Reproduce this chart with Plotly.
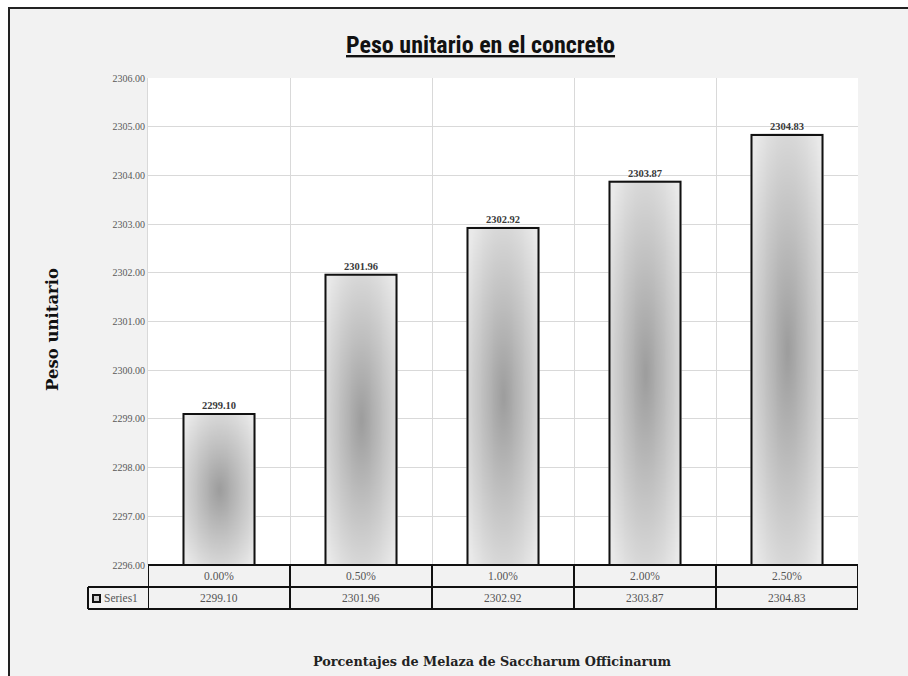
import numpy as np
import plotly.graph_objects as go

# ---- data ----
categories = ["0.00%", "0.50%", "1.00%", "2.00%", "2.50%"]
peso_unitario = [2299.10, 2301.96, 2302.92, 2303.87, 2304.83]
series_name = "Series1"
y_min, y_max = 2296.0, 2306.0

# ---- geometry (pixels) ----
W, H = 908, 676
ML, MR, MT, MB = 148, 50, 78, 111
PW, PH = W - ML - MR, H - MT - MB


def px_x(px):
    return (px - ML) / PW


def px_y(py):
    return (H - MB - py) / PH


xs = list(range(len(categories)))
bar_w = 0.5

fig = go.Figure()

# radial grey shading inside each bar
shade_scale = [[0.0, "#9c9c9c"], [0.45, "#c0c0c0"], [1.0, "#e9e9e9"]]
for i, v in zip(xs, peso_unitario):
    nx, ny = 40, 120
    cx = np.linspace(i - bar_w / 2, i + bar_w / 2, nx)
    cy = np.linspace(y_min, v, ny)
    mid = (y_min + v) / 2
    half = (v - y_min) / 2
    dx = (cx[None, :] - i) / (bar_w / 2)
    dy = (cy[:, None] - mid) / half
    z = np.sqrt(dx ** 2 + dy ** 2)
    fig.add_trace(go.Heatmap(
        x=cx, y=cy, z=z, zmin=0, zmax=1.3, colorscale=shade_scale,
        zsmooth="best", showscale=False, hoverinfo="skip",
    ))

fig.add_trace(go.Bar(
    x=xs, y=[v - y_min for v in peso_unitario], base=y_min, width=bar_w,
    marker=dict(color="rgba(0,0,0,0)", line=dict(color="#111111", width=2)),
    text=[f"<b>{v:.2f}</b>" for v in peso_unitario], textposition="outside",
    cliponaxis=False,
    textfont=dict(family="Liberation Serif", size=10.5, color="#3a3a3a"),
    name=series_name, showlegend=False,
))

shapes = []
# outer chart frame (runs off the right and bottom edges) and white plotting area
shapes.append(dict(type="rect", xref="paper", yref="paper",
                   x0=px_x(9), x1=px_x(1000), y0=px_y(760), y1=px_y(8),
                   fillcolor="#f2f2f2", line=dict(color="#222222", width=2),
                   layer="below"))
shapes.append(dict(type="rect", xref="paper", yref="paper",
                   x0=0, x1=1, y0=0, y1=1, fillcolor="white",
                   line=dict(width=0), layer="below"))

# data table under the plot
row1_top, row1_bot, row2_bot = 565, 587, 609
key_left = 88
tl = dict(color="#111111", width=2)
shapes.append(dict(type="line", xref="paper", yref="paper", x0=0, x1=1,
                   y0=px_y(row1_top), y1=px_y(row1_top), line=tl))
for yy in (row1_bot, row2_bot):
    shapes.append(dict(type="line", xref="paper", yref="paper",
                       x0=px_x(key_left), x1=1, y0=px_y(yy), y1=px_y(yy), line=tl))
shapes.append(dict(type="line", xref="paper", yref="paper",
                   x0=px_x(key_left), x1=px_x(key_left),
                   y0=px_y(row1_bot), y1=px_y(row2_bot), line=tl))
for b in [i - 0.5 for i in xs] + [xs[-1] + 0.5]:
    shapes.append(dict(type="line", xref="x", yref="paper", x0=b, x1=b,
                       y0=px_y(row1_top), y1=px_y(row2_bot), line=tl))
# legend key in the series cell
shapes.append(dict(type="rect", xref="paper", yref="paper",
                   x0=px_x(93), x1=px_x(100), y0=px_y(602), y1=px_y(595),
                   fillcolor="#cfcfcf", line=dict(color="#111111", width=2)))

annotations = []
cell_font = dict(family="Liberation Serif", size=11.5, color="#555555")
for i, c, v in zip(xs, categories, peso_unitario):
    annotations.append(dict(x=i, y=px_y((row1_top + row1_bot) / 2), xref="x", yref="paper",
                            text=c, showarrow=False, font=cell_font,
                            xanchor="center", yanchor="middle"))
    annotations.append(dict(x=i, y=px_y((row1_bot + row2_bot) / 2), xref="x", yref="paper",
                            text=f"{v:.2f}", showarrow=False, font=cell_font,
                            xanchor="center", yanchor="middle"))
annotations.append(dict(x=px_x(102), y=px_y((row1_bot + row2_bot) / 2), xref="paper",
                        yref="paper", text=series_name, showarrow=False, font=cell_font,
                        xanchor="left", yanchor="middle"))

# titles
annotations.append(dict(x=px_x(480), y=px_y(45), xref="paper", yref="paper",
                        text="<b><u>Peso unitario en el concreto</u></b>", showarrow=False,
                        font=dict(family="Liberation Sans Narrow, Roboto Condensed, Liberation Sans",
                                  size=24, color="#111111"),
                        xanchor="center", yanchor="middle"))
annotations.append(dict(x=px_x(52), y=px_y(330), xref="paper", yref="paper",
                        text="<b>Peso unitario</b>", textangle=-90, showarrow=False,
                        font=dict(family="DejaVu Serif", size=16.5, color="#111111"),
                        xanchor="center", yanchor="middle"))
annotations.append(dict(x=px_x(492), y=px_y(661), xref="paper", yref="paper",
                        text="<b>Porcentajes de Melaza de Saccharum Officinarum</b>",
                        showarrow=False,
                        font=dict(family="DejaVu Serif", size=12.8, color="#222222"),
                        xanchor="center", yanchor="middle"))

fig.update_layout(
    width=W, height=H,
    margin=dict(l=ML, r=MR, t=MT, b=MB, pad=0),
    paper_bgcolor="white", plot_bgcolor="white",
    shapes=shapes, annotations=annotations,
    showlegend=False,
    xaxis=dict(range=[-0.5, len(xs) - 0.5], tickvals=[i - 0.5 for i in xs] + [xs[-1] + 0.5],
               showticklabels=False, ticks="", showgrid=True, gridcolor="#d9d9d9",
               gridwidth=1, zeroline=False, showline=False, fixedrange=True),
    yaxis=dict(range=[y_min, y_max], dtick=1, tickformat=".2f", showgrid=True,
               gridcolor="#d9d9d9", gridwidth=1, zeroline=False,
               showline=True, linecolor="#d9d9d9", ticks="", ticklen=0,
               tickfont=dict(family="Liberation Serif", size=10, color="#595959"),
               fixedrange=True),
)

fig.write_html("out.html")
